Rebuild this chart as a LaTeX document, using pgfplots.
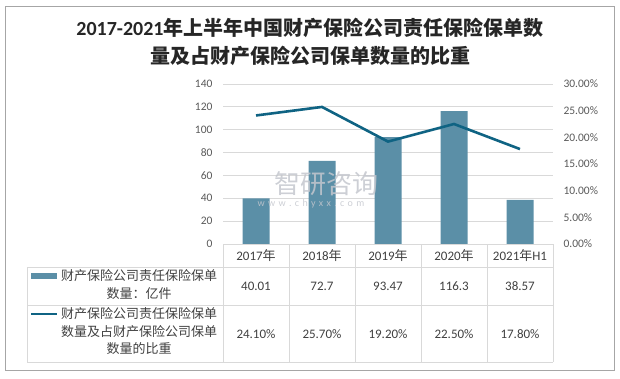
\documentclass[border=0pt]{standalone}
\usepackage{pgfplots}
\pgfplotsset{compat=1.18}
\usepackage{fontspec}
\setmainfont{Carlito}
\newfontfamily\cjk{Noto Sans CJK SC}
\definecolor{barc}{HTML}{5B8FA7}
\definecolor{linec}{HTML}{0F6383}
\definecolor{gridc}{HTML}{D9D9D9}
\definecolor{tickc}{HTML}{595959}
\definecolor{txtc}{HTML}{404040}
\definecolor{titc}{HTML}{262626}
\definecolor{wmc}{HTML}{C4C7CE}
\begin{document}
\begin{tikzpicture}[x=1pt,y=1pt]
\path (0,0) rectangle (620,378);
\draw[color=black!35, line width=0.8pt] (5.5,8) rectangle (614,372);
% title
\node[text=titc, font=\fontsize{20}{24}\selectfont\bfseries] at (310,350) {2017-2021{\cjk 年上半年中国财产保险公司责任保险保单数}};
\node[text=titc, font=\fontsize{20}{24}\selectfont\bfseries\cjk] at (310,322) {量及占财产保险公司保单数量的比重};
\begin{axis}[at={(223pt,134pt)}, anchor=south west, scale only axis,
  width=330pt, height=160pt,
  xmin=-0.5, xmax=4.5, ymin=0, ymax=140,
  ytick={0,20,...,140}, xtick=\empty,
  axis line style={draw=none}, major tick length=0pt,
  ymajorgrids, grid style={gridc, line width=0.75pt},
  /pgf/number format/assume math mode=true,
  yticklabel style={text=tickc, font=\fontsize{11.5}{13}\selectfont, xshift=-7pt},
  ybar, bar width=27pt, clip=false]
\addplot[fill=barc, draw=none] coordinates {(0,40.01) (1,72.7) (2,93.47) (3,116.3) (4,38.57)};
\end{axis}
\begin{axis}[at={(223pt,134pt)}, anchor=south west, scale only axis,
  width=330pt, height=160pt,
  xmin=-0.5, xmax=4.5, ymin=0, ymax=30,
  ytick={0,5,...,30}, xtick=\empty,
  yticklabels={0.00\%,5.00\%,10.00\%,15.00\%,20.00\%,25.00\%,30.00\%},
  yticklabel pos=right,
  axis line style={draw=none}, major tick length=0pt,
  yticklabel style={text=tickc, font=\fontsize{11.5}{13}\selectfont, xshift=7pt}]
\addplot[linec, line width=2.6pt, mark=none] coordinates {(0,24.1) (1,25.7) (2,19.2) (3,22.5) (4,17.8)};
\end{axis}
% watermark
\node[text=wmc, font=\fontsize{26}{28}\selectfont\cjk, inner sep=0pt, anchor=base, opacity=0.85] at (326,185) {智研咨询};
\node[text=wmc, font=\fontsize{10}{11}\selectfont, inner sep=0pt, anchor=base, opacity=0.85] at (311,172) {w\,\,w\,\,w\,\,.\,\,c\,\,h\,\,y\,\,x\,\,x\,\,.\,\,c\,\,o\,\,m};
% table grid
\begin{scope}[gridc, line width=0.75pt]
\draw (223,134) -- (553,134);
\draw (27,111) -- (553,111);
\draw (27,73) -- (553,73);
\draw (27,16) -- (553,16);
\draw (27,111) -- (27,16);
\foreach \xx in {223,289,355,421,487,553} {\draw (\xx,134) -- (\xx,16);}
\end{scope}
% table text
\begin{scope}[text=txtc, font=\fontsize{13}{15}\selectfont]
\node at (256,122) {2017{\cjk 年}};
\node at (322,122) {2018{\cjk 年}};
\node at (388,122) {2019{\cjk 年}};
\node at (454,122) {2020{\cjk 年}};
\node at (520,122) {2021{\cjk 年}H1};
\node at (256,92) {40.01};
\node at (322,92) {72.7};
\node at (388,92) {93.47};
\node at (454,92) {116.3};
\node at (520,92) {38.57};
\node at (256,44) {24.10\%};
\node at (322,44) {25.70\%};
\node at (388,44) {19.20\%};
\node at (454,44) {22.50\%};
\node at (520,44) {17.80\%};
\end{scope}
% legend cells
\fill[barc] (31,99) rectangle (57,105);
\draw[linec, line width=2.6pt] (31,64) -- (57,64);
\node[text=txtc, font=\fontsize{13}{17.5}\selectfont\cjk, align=center] at (139,93.5) {财产保险公司责任保险保单\\数量：亿件};
\node[text=txtc, font=\fontsize{13}{17.5}\selectfont\cjk, align=center] at (139,46.5) {财产保险公司责任保险保单\\数量及占财产保险公司保单\\数量的比重};
\end{tikzpicture}
\end{document}
